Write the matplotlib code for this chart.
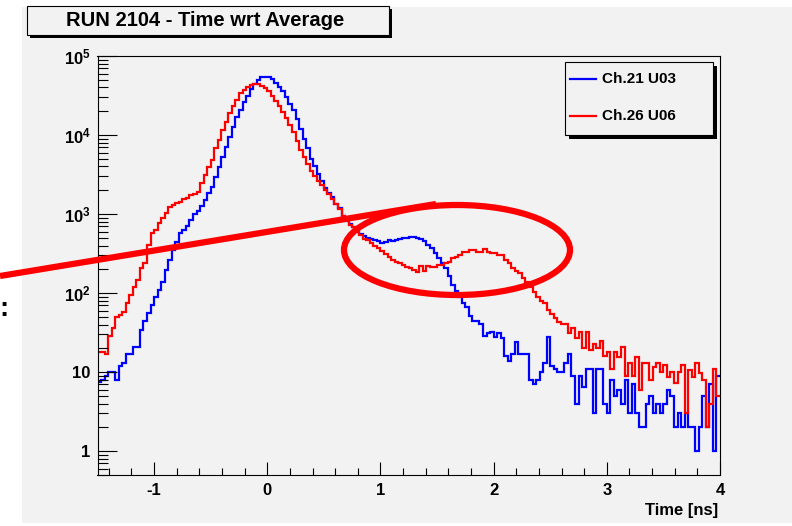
import numpy as np
import matplotlib
matplotlib.use("Agg")
import matplotlib.pyplot as plt
from matplotlib.patches import Rectangle, Ellipse
from matplotlib.lines import Line2D
from matplotlib.ticker import FixedLocator, FuncFormatter, LogLocator, MultipleLocator, NullFormatter

# time histograms, bins of 1/32 ns between -1.5 and 4 ns
t_min = -1.5
bin_width = 0.03125
n_bins = 176

ch21_u03 = [
    7.5, 8, 9, 10, 10, 8, 12, 13, 17, 17,
    21, 21, 34, 45, 56, 70, 89, 110, 139, 195,
    262, 350, 445, 570, 620, 700, 850, 1000, 1100, 1250,
    1500, 1840, 2200, 2950, 3930, 5250, 7000, 9500, 12700, 17000,
    21000, 26000, 31000, 38000, 44000, 50000, 54000, 55000, 54000, 51000,
    46000, 41000, 36000, 30000, 25000, 20500, 16000, 12000, 9000, 6800,
    5000, 4000, 3200, 2600, 2150, 1850, 1650, 1350, 1200, 950,
    820, 750, 680, 600, 560, 530, 500, 490, 470, 450,
    430, 440, 470, 460, 470, 490, 495, 500, 510, 510,
    500, 480, 450, 410, 370, 320, 280, 240, 210, 165,
    125, 105, 90, 75, 66, 52, 45, 45, 41, 29,
    31, 32, 28, 31, 27, 16, 14, 17, 24, 17,
    17, 17, 8, 7, 8, 10, 13, 28, 12, 11,
    10, 10, 13, 17, 9, 4, 9, 6.5, 11, 11,
    3, 11, 11, 4, 3, 8, 5, 6, 4, 8,
    3, 7, 3, 2, 2, 4, 5, 3, 4, 3,
    4, 6, 5, 2, 3, 2, 3, 2, 2, 1,
    2, 5, 2, 7, 1, 9,
]

ch26_u06 = [
    18, 18, 17, 29, 36, 50, 53, 58, 74, 94,
    120, 146, 207, 240, 405, 570, 620, 770, 890, 1030,
    1230, 1300, 1370, 1430, 1550, 1600, 1740, 1800, 1900, 2450,
    3130, 3930, 4800, 6800, 8700, 11500, 14800, 19000, 23000, 27800,
    33600, 37000, 41000, 43300, 44600, 44600, 42000, 39000, 36000, 31000,
    27000, 23000, 19500, 16500, 13500, 11000, 8500, 6500, 5200, 4300,
    3500, 3000, 2600, 2300, 2000, 1800, 1550, 1350, 1150, 950,
    850, 730, 680, 620, 550, 490, 470, 430, 400, 370,
    340, 310, 285, 260, 250, 240, 225, 215, 207, 195,
    185, 220, 190, 220, 215, 217, 225, 225, 240, 250,
    275, 290, 300, 330, 330, 350, 350, 330, 335, 360,
    330, 325, 320, 300, 300, 260, 240, 207, 190, 180,
    155, 140, 120, 104, 89, 80, 74, 61, 55, 48,
    43, 41, 41, 31, 36, 27, 32, 20, 32, 19,
    23, 20, 25, 16, 18, 11, 18, 15.6, 21, 9,
    13, 9, 15.6, 5.9, 13, 13, 8, 11.7, 13, 10,
    12.3, 8.7, 10, 7.2, 10, 12.3, 3, 10.6, 8.7, 13,
    9.7, 8, 2, 4, 11, 5,
]

series_names = ["Ch.21 U03", "Ch.26 U06"]
series_colors = ["#0000ff", "#ff0000"]
title = "RUN 2104 - Time wrt Average"

W, H = 792, 526
plt.rcParams["font.family"] = ["Liberation Sans", "DejaVu Sans"]
plt.rcParams["font.weight"] = "bold"
plt.rcParams["axes.unicode_minus"] = False
plt.rcParams["mathtext.fontset"] = "custom"
plt.rcParams["mathtext.bf"] = "Liberation Sans:bold"
plt.rcParams["mathtext.rm"] = "Liberation Sans:bold"

grey = "#f2f2f2"


def fx(x):
    return x / W


def fy(y):
    return 1 - y / H


def box_with_shadow(fig, x0, y0, x1, y1, off):
    # black offset rectangle underneath, grey box with thin border on top
    fig.add_artist(Rectangle((fx(x0 + off), fy(y1 + off)), fx(x1 - x0), (y1 - y0) / H,
                             transform=fig.transFigure, facecolor="black", edgecolor="none", zorder=3))
    fig.add_artist(Rectangle((fx(x0), fy(y1)), fx(x1 - x0), (y1 - y0) / H,
                             transform=fig.transFigure, facecolor=grey, edgecolor="black",
                             linewidth=0.8, zorder=4))


def decade_label(v, pos):
    if v == 1:
        return "1"
    if v == 10:
        return "10"
    return r"$\mathbf{10^{%d}}$" % int(round(np.log10(v)))


fig = plt.figure(figsize=(W / 100, H / 100), dpi=100)
fig.patch.set_facecolor("white")
fig.add_artist(Rectangle((fx(22), fy(523)), fx(W - 22), (523 - 7) / H,
                         transform=fig.transFigure, facecolor=grey, edgecolor="none", zorder=-1))

ax = fig.add_axes([fx(97.5), fy(475), fx(720 - 97.5), (475 - 56) / H])
ax.set_facecolor(grey)

edges = t_min + bin_width * np.arange(n_bins + 1)
for vals, name, col in zip([ch21_u03, ch26_u06], series_names, series_colors):
    ax.stairs(vals, edges, baseline=None, color=col, linewidth=1.6, label=name)

ax.set_yscale("log")
ax.set_xlim(-1.5, 4)
ax.set_ylim(0.5, 1e5)

ax.xaxis.set_major_locator(MultipleLocator(1))
ax.xaxis.set_minor_locator(MultipleLocator(0.2))
ax.yaxis.set_major_locator(FixedLocator([1, 10, 100, 1e3, 1e4, 1e5]))
ax.yaxis.set_major_formatter(FuncFormatter(decade_label))
ax.yaxis.set_minor_locator(LogLocator(base=10, subs=np.arange(2, 10)))
ax.yaxis.set_minor_formatter(NullFormatter())

ax.tick_params(which="both", direction="in", top=False, right=False, width=0.8, labelsize=12)
ax.tick_params(axis="x", which="major", length=9.5, pad=6)
ax.tick_params(axis="x", which="minor", length=5)
ax.tick_params(axis="y", which="major", length=14, pad=5)
ax.tick_params(axis="y", which="minor", length=7)
for sp in ax.spines.values():
    sp.set_linewidth(0.8)

fig.text(fx(718), fy(510), "Time [ns]", ha="right", va="center", fontsize=12, weight="bold")

# title box
box_with_shadow(fig, 27, 6, 389, 35, 3)
fig.text(fx(205), fy(20.5), title, ha="center", va="center", fontsize=14.5, weight="bold", zorder=5)

# legend box
box_with_shadow(fig, 565, 62, 713, 135, 4)
for k, (name, col) in enumerate(zip(series_names, series_colors)):
    yy = 79 + k * 37
    fig.add_artist(Line2D([fx(570), fx(596)], [fy(yy), fy(yy)], transform=fig.transFigure,
                          color=col, linewidth=1.6, zorder=5))
    fig.text(fx(602), fy(yy), name, ha="left", va="center", fontsize=11, weight="bold", zorder=5)

# hand-drawn highlight: pointer line and ellipse round the bumps
fig.add_artist(Line2D([fx(0), fx(436)], [fy(276), fy(204)], transform=fig.transFigure,
                      color="#ff0000", linewidth=4.5, solid_capstyle="butt", zorder=6))
fig.add_artist(Ellipse((fx(457), fy(250)), fx(226), 90 / H, transform=fig.transFigure,
                       facecolor="none", edgecolor="#ff0000", linewidth=4.5, zorder=6))
fig.text(fx(4), fy(309), ":", ha="center", va="center", fontsize=20, weight="bold")

fig.savefig("out.png", dpi=100)
